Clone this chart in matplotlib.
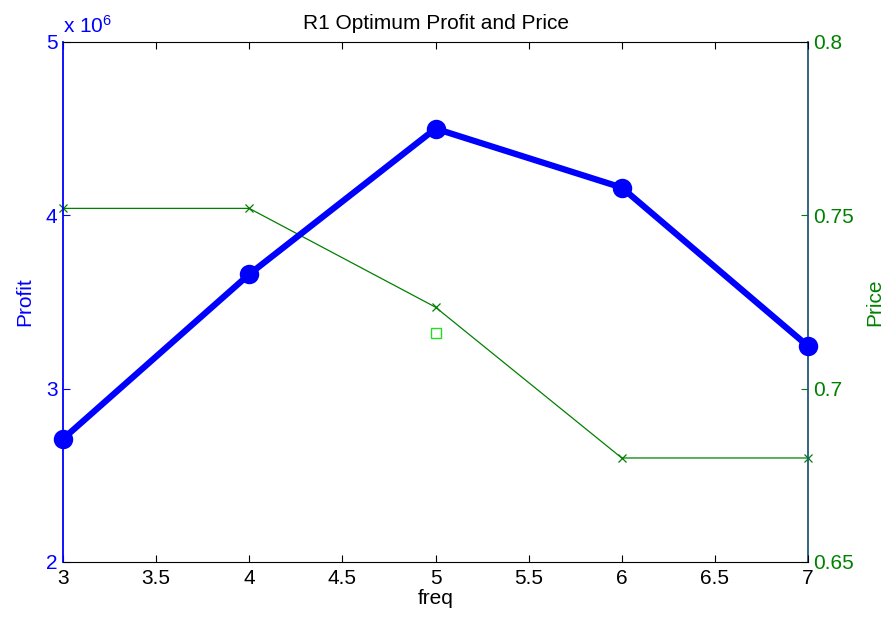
import matplotlib
matplotlib.use("Agg")
import matplotlib.pyplot as plt

plt.rcParams['font.family'] = ['Liberation Sans', 'DejaVu Sans']
plt.rcParams['mathtext.default'] = 'regular'

freq = [3, 4, 5, 6, 7]
profit = [2.71e6, 3.66e6, 4.50e6, 4.16e6, 3.245e6]
price = [0.752, 0.752, 0.7235, 0.680, 0.680]
opt_freq = [5]
opt_price = [0.716]

xticks = [3, 3.5, 4, 4.5, 5, 5.5, 6, 6.5, 7]
profit_ticks = [2e6, 3e6, 4e6, 5e6]
price_ticks = [0.65, 0.7, 0.75, 0.8]

blue = '#0000ff'
green = '#008000'
fs = 15

fig = plt.figure(figsize=(8.86, 6.22), dpi=100)
ax = fig.add_axes([0.0711, 0.0965, 0.8409, 0.836])
ax2 = ax.twinx()

ax.plot(freq, profit, color=blue, lw=4.5, marker='o', ms=8.5, mfc='none',
        mew=5.5, zorder=3, clip_on=False)
ax2.plot(freq, price, color=green, lw=0.9, marker='x', ms=6, mew=0.9,
         clip_on=False)
ax2.plot(opt_freq, opt_price, ls='none', marker='s', ms=7, mfc='none',
         mec='#22dd22', mew=1.0)
ax.set_zorder(ax2.get_zorder() + 1)
ax.patch.set_visible(False)

ax.set_xlim(3, 7)
ax.set_ylim(2e6, 5e6)
ax2.set_ylim(0.65, 0.8)
ax.set_xticks(xticks)
ax.set_xticklabels(['3', '3.5', '4', '4.5', '5', '5.5', '6', '6.5', '7'])
ax.set_yticks(profit_ticks)
ax.set_yticklabels(['2', '3', '4', '5'])
ax2.set_yticks(price_ticks)
ax2.set_yticklabels(['0.65', '0.7', '0.75', '0.8'])

ax.tick_params(axis='x', direction='in', top=True, length=5, labelsize=fs,
               pad=5, colors='black')
ax.tick_params(axis='y', direction='in', length=5, labelsize=fs, colors=blue, pad=4)
ax2.tick_params(axis='y', direction='in', length=5, labelsize=fs, colors=green, pad=4)

for sp in ['top', 'bottom']:
    ax.spines[sp].set_color('black')
ax.spines['left'].set_color(blue)
ax.spines['left'].set_linewidth(1.3)
ax.spines['right'].set_visible(False)
ax2.spines['right'].set_color('#1f5a7a')
ax2.spines['right'].set_linewidth(1.3)
ax2.spines['left'].set_visible(False)
ax2.spines['top'].set_visible(False)
ax2.spines['bottom'].set_visible(False)

ax.set_title('R1 Optimum Profit and Price', fontsize=fs, pad=9)
ax.set_xlabel('freq', fontsize=fs, labelpad=1)
ax.set_ylabel('Profit', fontsize=fs, color=blue, labelpad=8)
ax2.set_ylabel('Price', fontsize=fs, color=green, labelpad=8)
ax.text(0.0, 1.01, r'x $10^{6}$', transform=ax.transAxes, fontsize=fs,
        color=blue, ha='left', va='bottom')

fig.savefig('out.png', dpi=100)
